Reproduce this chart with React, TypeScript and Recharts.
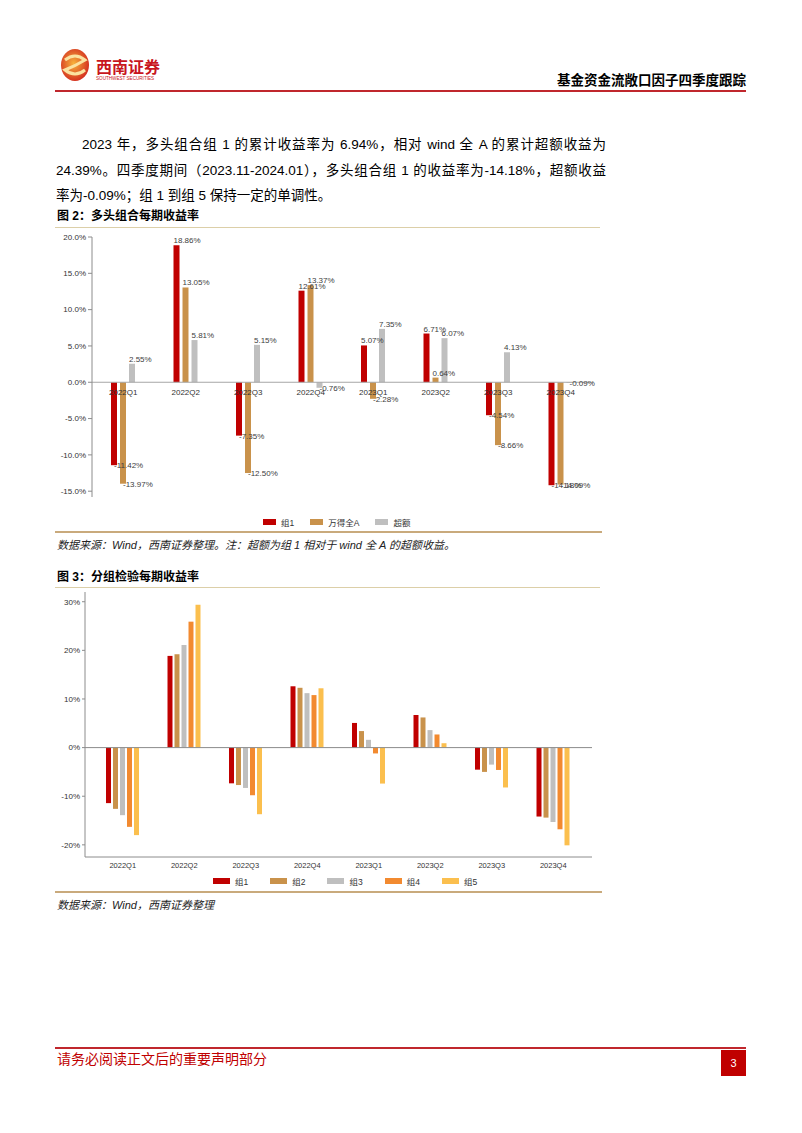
import React from 'react';
import { BarChart, Bar, XAxis, YAxis, ReferenceLine, LabelList } from 'recharts';

const FONT = "'Liberation Sans', 'Noto Sans CJK SC', sans-serif";

const quarters = ['2022Q1', '2022Q2', '2022Q3', '2022Q4', '2023Q1', '2023Q2', '2023Q3', '2023Q4'];

// 图2 多头组合每期收益率 (%)
const group1 = [-11.42, 18.86, -7.35, 12.61, 5.07, 6.71, -4.54, -14.18];
const windA = [-13.97, 13.05, -12.5, 13.37, -2.28, 0.64, -8.66, -14.09];
const excess = [2.55, 5.81, 5.15, -0.76, 7.35, 6.07, 4.13, -0.09];
const fig2Ticks = [-15, -10, -5, 0, 5, 10, 15, 20];

// 图3 分组检验每期收益率 (%)
const g1 = [-11.42, 18.86, -7.35, 12.61, 5.07, 6.71, -4.54, -14.18];
const g2 = [-12.6, 19.2, -7.7, 12.3, 3.4, 6.2, -5.0, -14.4];
const g3 = [-13.9, 21.1, -8.3, 11.2, 1.6, 3.6, -3.5, -15.3];
const g4 = [-16.3, 25.9, -9.8, 10.8, -1.2, 2.7, -4.6, -16.8];
const g5 = [-18.0, 29.4, -13.7, 12.2, -7.4, 0.9, -8.2, -20.1];
const fig3Ticks = [-20, -10, 0, 10, 20, 30];

const fig2Series = [
  { key: 'group1', name: '组1', color: '#C00000' },
  { key: 'windA', name: '万得全A', color: '#C9924B' },
  { key: 'excess', name: '超额', color: '#BFBFBF' },
];
const fig3Series = [
  { key: 'g1', name: '组1', color: '#C00000' },
  { key: 'g2', name: '组2', color: '#C9924B' },
  { key: 'g3', name: '组3', color: '#BFBFBF' },
  { key: 'g4', name: '组4', color: '#F28A30' },
  { key: 'g5', name: '组5', color: '#FBBF4E' },
];

const fig2Data = quarters.map((q, i) => ({ q, group1: group1[i], windA: windA[i], excess: excess[i] }));
const fig3Data = quarters.map((q, i) => ({ q, g1: g1[i], g2: g2[i], g3: g3[i], g4: g4[i], g5: g5[i] }));

// chart 1 geometry
const F2_MIN = -15.8;
const F2_MAX = 20;
const F2_TOP = 7;
const F2_PLOT_H = 260;
const f2ZeroY = F2_TOP + (F2_MAX / (F2_MAX - F2_MIN)) * F2_PLOT_H;

const valueLabel = (props: any) => {
  const { x, y, width, height, value } = props;
  const v = Number(value);
  const top = Math.min(y, y + height);
  const bottom = Math.max(y, y + height);
  if (v >= 0) {
    return (
      <text x={x} y={top - 2} fontSize={8} fill="#404040" fontFamily={FONT}>
        {v.toFixed(2)}%
      </text>
    );
  }
  return (
    <text x={x + width / 2} y={bottom + 3} fontSize={8} fill="#404040" fontFamily={FONT}>
      {v.toFixed(2)}%
    </text>
  );
};

const fig2Tick = (props: any) => (
  <text x={props.x} y={f2ZeroY + 13} textAnchor="middle" fontSize={8} fill="#333" fontFamily={FONT}>
    {props.payload.value}
  </text>
);

function Legend({ items, swatch, gap, left, top }: any) {
  return (
    <div style={{ position: 'absolute', left, top, display: 'flex', alignItems: 'center', fontSize: 8.5, color: '#333', fontFamily: FONT }}>
      {items.map((s: any) => (
        <div key={s.key} style={{ display: 'flex', alignItems: 'center', marginRight: gap }}>
          <div style={{ width: swatch, height: 6, background: s.color, marginRight: 5 }} />
          <span>{s.name}</span>
        </div>
      ))}
    </div>
  );
}

const txt = (style: any, children: any) => (
  <div style={{ position: 'absolute', whiteSpace: 'nowrap', ...style }}>{children}</div>
);

export default function App() {
  return (
    <div style={{ position: 'absolute', left: 0, top: 0, width: 802, height: 1133, background: '#fff', fontFamily: FONT, color: '#000' }}>
      {/* header */}
      <svg width={120} height={42} style={{ position: 'absolute', left: 58, top: 45 }}>
        <defs>
          <radialGradient id="lg" cx="45%" cy="45%" r="60%">
            <stop offset="0%" stopColor="#F7B23B" />
            <stop offset="100%" stopColor="#D2281E" />
          </radialGradient>
        </defs>
        <ellipse cx={17} cy={20} rx={14} ry={16} fill="url(#lg)" />
        <path d="M 7 15 Q 17 7 27 15 Q 17 21 7 25 Q 17 33 27 25" stroke="#FBE2A0" strokeWidth={3} fill="none" />
        <text x={38} y={28} fontSize={16} fontWeight="bold" fill="#C8161D" fontFamily="'Noto Sans CJK SC'">西南证券</text>
        <text x={38} y={35} fontSize={4.6} fill="#C8161D" fontFamily={FONT}>SOUTHWEST SECURITIES</text>
      </svg>
      {txt({ right: 802 - 746, top: 69, fontSize: 13.5, fontWeight: 'bold', fontFamily: "'Noto Sans CJK SC'" }, '基金资金流敞口因子四季度跟踪')}
      <div style={{ position: 'absolute', left: 55, top: 90, width: 691, height: 2, background: '#C0272D' }} />

      {/* paragraph */}
      <div style={{ position: 'absolute', left: 82, top: 135, width: 524, fontSize: 13.5, lineHeight: '20px', textAlign: 'justify', textAlignLast: 'justify' as any }}>
        2023 年，多头组合组 1 的累计收益率为 6.94%，相对 wind 全 A 的累计超额收益为
      </div>
      <div style={{ position: 'absolute', left: 56, top: 161, width: 550, fontSize: 13.5, lineHeight: '20px', textAlign: 'justify', textAlignLast: 'justify' as any }}>
        24.39%。四季度期间（2023.11-2024.01），多头组合组 1 的收益率为-14.18%，超额收益
      </div>
      {txt({ left: 56, top: 186, fontSize: 13.5, lineHeight: '20px' }, '率为-0.09%；组 1 到组 5 保持一定的单调性。')}

      {/* figure 2 */}
      {txt({ left: 57, top: 208, fontSize: 12, fontWeight: 'bold', lineHeight: '16px' }, '图 2：多头组合每期收益率')}
      <div style={{ position: 'absolute', left: 55, top: 227, width: 545, height: 1, background: '#DCCFA8' }} />
      <div style={{ position: 'absolute', left: 55, top: 230 }}>
        <BarChart width={548} height={271} data={fig2Data} margin={{ top: F2_TOP, right: 11, left: 0, bottom: 3 }} barSize={6} barGap={3}>
          <XAxis dataKey="q" axisLine={false} tickLine={false} height={1} interval={0} tick={fig2Tick} />
          <YAxis
            type="number"
            domain={[F2_MIN, F2_MAX]}
            ticks={fig2Ticks}
            width={37}
            tickSize={4}
            tickMargin={2}
            stroke="#8c8c8c"
            tick={{ fontSize: 8, fill: '#333', fontFamily: FONT }}
            tickFormatter={(v: number) => `${v.toFixed(1)}%`}
          />
          <ReferenceLine y={0} stroke="#a6a6a6" />
          {fig2Series.map((s) => (
            <Bar key={s.key} dataKey={s.key} name={s.name} fill={s.color} isAnimationActive={false}>
              <LabelList dataKey={s.key} content={valueLabel} />
            </Bar>
          ))}
        </BarChart>
      </div>
      <Legend items={fig2Series} swatch={13} gap={16} left={263} top={516} />
      <div style={{ position: 'absolute', left: 55, top: 531, width: 547, height: 1.5, background: '#C9AA7C' }} />
      {txt({ left: 57, top: 537, fontSize: 11, fontStyle: 'italic', lineHeight: '16px', color: '#222' }, '数据来源：Wind，西南证券整理。注：超额为组 1 相对于 wind 全 A 的超额收益。')}

      {/* figure 3 */}
      {txt({ left: 57, top: 569, fontSize: 12, fontWeight: 'bold', lineHeight: '16px' }, '图 3：分组检验每期收益率')}
      <div style={{ position: 'absolute', left: 55, top: 587, width: 545, height: 1, background: '#DCCFA8' }} />
      <div style={{ position: 'absolute', left: 55, top: 588 }}>
        <BarChart width={545} height={289} data={fig3Data} margin={{ top: 4, right: 8, left: 0, bottom: 0 }} barSize={5} barGap={2}>
          <XAxis
            dataKey="q"
            height={20}
            interval={0}
            padding={{ left: 7, right: 8 }}
            tickLine={false}
            tickSize={0}
            tickMargin={6}
            stroke="#8c8c8c"
            tick={{ fontSize: 7.5, fill: '#333', fontFamily: FONT }}
          />
          <YAxis
            type="number"
            domain={[-22.5, 32]}
            ticks={fig3Ticks}
            width={30}
            tickSize={3}
            tickMargin={2}
            stroke="#8c8c8c"
            tick={{ fontSize: 8, fill: '#333', fontFamily: FONT }}
            tickFormatter={(v: number) => `${v}%`}
          />
          <ReferenceLine y={0} stroke="#8c8c8c" />
          {fig3Series.map((s) => (
            <Bar key={s.key} dataKey={s.key} name={s.name} fill={s.color} isAnimationActive={false} />
          ))}
        </BarChart>
      </div>
      <Legend items={fig3Series} swatch={17} gap={22} left={213} top={875} />
      <div style={{ position: 'absolute', left: 55, top: 891, width: 547, height: 1.5, background: '#C9AA7C' }} />
      {txt({ left: 57, top: 897, fontSize: 11, fontStyle: 'italic', lineHeight: '16px', color: '#222' }, '数据来源：Wind，西南证券整理')}

      {/* footer */}
      <div style={{ position: 'absolute', left: 55, top: 1047, width: 691, height: 1.5, background: '#C0272D' }} />
      {txt({ left: 57, top: 1049, fontSize: 14, lineHeight: '20px', color: '#C00000' }, '请务必阅读正文后的重要声明部分')}
      <div style={{ position: 'absolute', left: 721, top: 1050, width: 25, height: 26, background: '#C00000', color: '#fff', fontSize: 11, display: 'flex', alignItems: 'center', justifyContent: 'center' }}>
        3
      </div>
    </div>
  );
}
